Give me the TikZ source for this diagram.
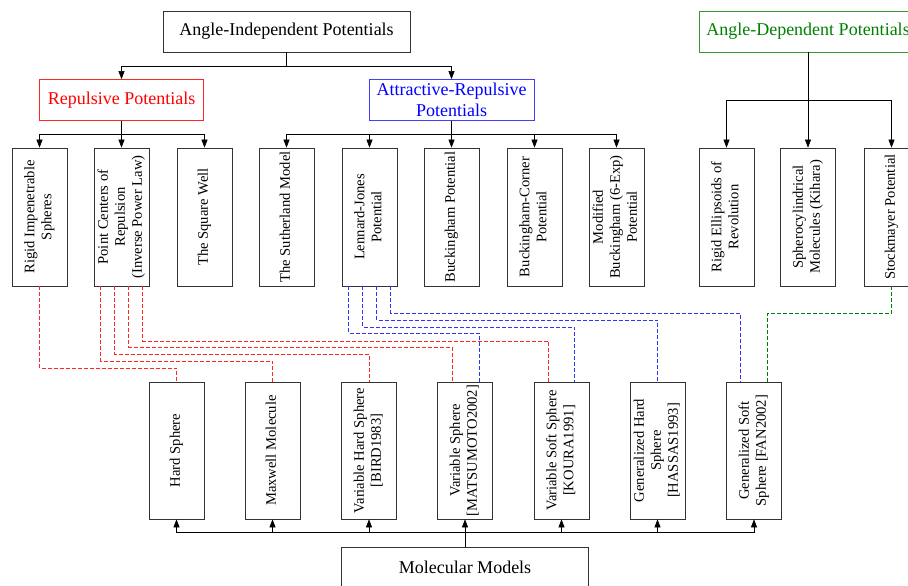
\documentclass[tikz,border=0pt]{standalone}
\usepackage{fontspec}
\setmainfont{Liberation Serif}
\usetikzlibrary{arrows.meta}

\definecolor{dgreen}{RGB}{0,128,0}
\newcommand{\vlabel}[1]{\rotatebox{90}{\begin{tabular}{@{}c@{}}#1\end{tabular}}}

\begin{document}
\begin{tikzpicture}[x=1pt, y=-1pt,
    box/.style={draw=black!80, line width=0.7pt, minimum height=41pt, inner sep=1pt,
        align=center, font=\fontsize{18}{20.5}\selectfont},
    vbox/.style={draw=black!80, line width=0.7pt, minimum width=55pt, minimum height=138pt,
        inner sep=0pt, font=\fontsize{14.6}{17}\selectfont},
    arr/.style={line width=0.6pt, -{Triangle[length=8pt,width=6pt]}},
    link/.style={line width=0.6pt, dash pattern=on 4pt off 2pt}]
    \useasboundingbox (0,0) rectangle (908,586);

    % Top level
    \node[box, minimum width=247pt] (aip) at (286.5,31.5) {Angle-Independent Potentials};
    \node[box, minimum width=218pt, draw=dgreen!80, text=dgreen] (adp) at (808,31.5) {Angle-Dependent Potentials};
    \node[box, minimum width=164pt, draw=red!85, text=red] (rep) at (121.5,100) {Repulsive Potentials};
    \node[box, minimum width=165pt, draw=blue!75, text=blue] (arp) at (451.5,100) {Attractive-Repulsive\\Potentials};

    % Potentials
    \node[vbox] (rigid) at (39.5,217) {\vlabel{Rigid Impenetrable\\Spheres}};
    \node[vbox] (pcr) at (121.5,217) {\vlabel{Point Centers of\\Repulsion\\(Inverse Power Law)}};
    \node[vbox] (sqw) at (204.5,217) {\vlabel{The Square Well}};
    \node[vbox] (suth) at (286.5,217) {\vlabel{The Sutherland Model}};
    \node[vbox] (lj) at (369.5,217) {\vlabel{Lennard-Jones\\Potential}};
    \node[vbox] (buck) at (451.5,217) {\vlabel{Buckingham Potential}};
    \node[vbox] (bc) at (534.5,217) {\vlabel{Buckingham-Corner\\Potential}};
    \node[vbox] (mbuck) at (616.5,217) {\vlabel{Modified\\Buckingham (6-Exp)\\Potential}};
    \node[vbox] (ellip) at (726.5,217) {\vlabel{Rigid Ellipsoids of\\Revolution}};
    \node[vbox] (sphcyl) at (808,217) {\vlabel{Spherocylindrical\\Molecules (Kihara)}};
    \node[vbox] (stock) at (891.5,217) {\vlabel{Stockmayer Potential}};

    % Models
    \node[vbox, minimum height=137pt] (hs) at (176.5,450.5) {\vlabel{Hard Sphere}};
    \node[vbox, minimum height=137pt] (mxw) at (272.5,450.5) {\vlabel{Maxwell Molecule}};
    \node[vbox, minimum height=137pt] (vhs) at (369,450.5) {\vlabel{Variable Hard Sphere\\{[BIRD1983]}}};
    \node[vbox, minimum height=137pt] (vs) at (465,450.5) {\vlabel{Variable Sphere\\{[MATSUMOTO2002]}}};
    \node[vbox, minimum height=137pt] (vss) at (561.5,450.5) {\vlabel{Variable Soft Sphere\\{[KOURA1991]}}};
    \node[vbox, minimum height=137pt] (ghs) at (657.5,450.5) {\vlabel{Generalized Hard\\Sphere\\{[HASSAS1993]}}};
    \node[vbox, minimum height=137pt] (gss) at (754,450.5) {\vlabel{Generalized Soft\\Sphere [FAN2002]}};
    \node[box, minimum width=247pt] (molmod) at (465,567.5) {Molecular Models};

    % Tree arrows
    \draw[arr] (aip.south) -- ++(0,14) -| (rep.north);
    \draw[arr] (aip.south) -- ++(0,14) -| (arp.north);
    \draw[arr] (rep.south) -- ++(0,13) -| (rigid.north);
    \draw[arr] (rep.south) -- (pcr.north);
    \draw[arr] (rep.south) -- ++(0,13) -| (sqw.north);
    \draw[arr] (arp.south) -- ++(0,13) -| (suth.north);
    \draw[arr] (arp.south) -- ++(0,13) -| (lj.north);
    \draw[arr] (arp.south) -- (buck.north);
    \draw[arr] (arp.south) -- ++(0,13) -| (bc.north);
    \draw[arr] (arp.south) -- ++(0,13) -| (mbuck.north);
    \draw[arr] (adp.south) -- ++(0,48) -| (ellip.north);
    \draw[arr] (adp.south) -- (sphcyl.north);
    \draw[arr] (adp.south) -- ++(0,48) -| (stock.north);

    % Molecular models arrows
    \draw[arr] (molmod.north) -- ++(0,-14) -| (hs.south);
    \draw[arr] (molmod.north) -- ++(0,-14) -| (mxw.south);
    \draw[arr] (molmod.north) -- ++(0,-14) -| (vhs.south);
    \draw[arr] (molmod.north) -- (vs.south);
    \draw[arr] (molmod.north) -- ++(0,-14) -| (vss.south);
    \draw[arr] (molmod.north) -- ++(0,-14) -| (ghs.south);
    \draw[arr] (molmod.north) -- ++(0,-14) -| (gss.south);

    % Links potentials -> models
    \draw[link, blue!80] ([xshift=-21pt]lj.south) -- ++(0,47) -| ([xshift=14pt]vs.north);
    \draw[link, blue!80] ([xshift=-7pt]lj.south) -- ++(0,41) -| ([xshift=13pt]vss.north);
    \draw[link, blue!80] ([xshift=7pt]lj.south) -- ++(0,34) -| (ghs.north);
    \draw[link, blue!80] ([xshift=21pt]lj.south) -- ++(0,27) -| ([xshift=-14pt]gss.north);
    \draw[link, red!85] (rigid.south) -- ++(0,82) -| (hs.north);
    \draw[link, red!85] ([xshift=-21pt]pcr.south) -- ++(0,75) -| (mxw.north);
    \draw[link, red!85] ([xshift=-7pt]pcr.south) -- ++(0,68) -| (vhs.north);
    \draw[link, red!85] ([xshift=7pt]pcr.south) -- ++(0,61) -| ([xshift=-13pt]vs.north);
    \draw[link, red!85] ([xshift=21pt]pcr.south) -- ++(0,55) -| ([xshift=-13pt]vss.north);
    \draw[link, dgreen] (stock.south) -- ++(0,27) -| ([xshift=13pt]gss.north);
\end{tikzpicture}
\end{document}
